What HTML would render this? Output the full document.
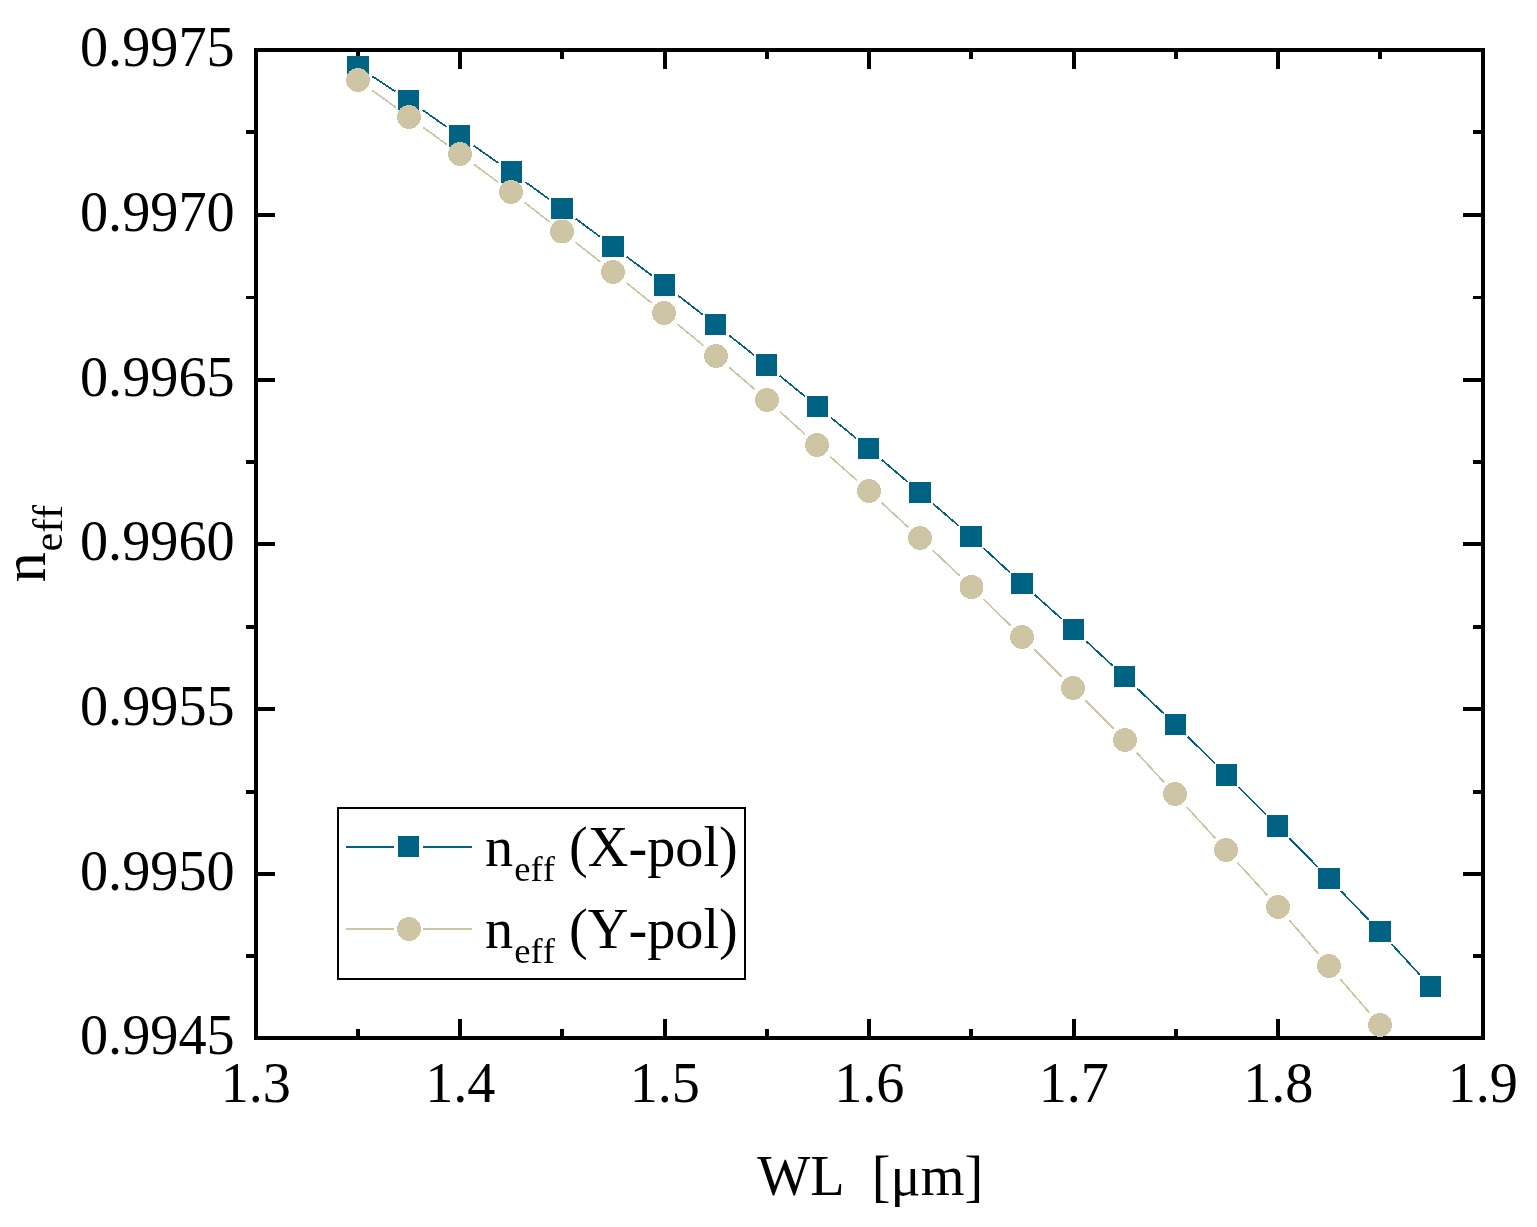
<!DOCTYPE html>
<html lang="en"><head><meta charset="utf-8"><title>n_eff vs WL</title>
<style>html,body{margin:0;padding:0;background:#fff;}body{width:1537px;height:1227px;overflow:hidden;}svg{display:block;}text{font-family:"Liberation Serif","DejaVu Serif",serif;fill:#000;font-kerning:none;font-variant-ligatures:none;font-feature-settings:"liga" 0,"kern" 0,"clig" 0;}</style>
</head><body>
<svg width="1537" height="1227" viewBox="0 0 1537 1227" role="img" aria-label="Effective index versus wavelength">
<rect x="0" y="0" width="1537" height="1227" fill="#fff"/>
<g shape-rendering="crispEdges">
<g fill="#000"><rect x="458" y="52" width="4" height="17"/><rect x="458" y="1019" width="4" height="17"/><rect x="663" y="52" width="4" height="17"/><rect x="663" y="1019" width="4" height="17"/><rect x="867" y="52" width="4" height="17"/><rect x="867" y="1019" width="4" height="17"/><rect x="1072" y="52" width="4" height="17"/><rect x="1072" y="1019" width="4" height="17"/><rect x="1276" y="52" width="4" height="17"/><rect x="1276" y="1019" width="4" height="17"/><rect x="356" y="52" width="4" height="7"/><rect x="356" y="1029" width="4" height="7"/><rect x="560" y="52" width="4" height="7"/><rect x="560" y="1029" width="4" height="7"/><rect x="765" y="52" width="4" height="7"/><rect x="765" y="1029" width="4" height="7"/><rect x="969" y="52" width="4" height="7"/><rect x="969" y="1029" width="4" height="7"/><rect x="1174" y="52" width="4" height="7"/><rect x="1174" y="1029" width="4" height="7"/><rect x="1378" y="52" width="4" height="7"/><rect x="1378" y="1029" width="4" height="7"/><rect x="258" y="213" width="17" height="4"/><rect x="1463" y="213" width="18" height="4"/><rect x="258" y="378" width="17" height="4"/><rect x="1463" y="378" width="18" height="4"/><rect x="258" y="542" width="17" height="4"/><rect x="1463" y="542" width="18" height="4"/><rect x="258" y="707" width="17" height="4"/><rect x="1463" y="707" width="18" height="4"/><rect x="258" y="872" width="17" height="4"/><rect x="1463" y="872" width="18" height="4"/><rect x="246" y="130" width="8" height="4"/><rect x="1473" y="130" width="8" height="4"/><rect x="246" y="296" width="8" height="3"/><rect x="1473" y="296" width="8" height="3"/><rect x="246" y="460" width="8" height="4"/><rect x="1473" y="460" width="8" height="4"/><rect x="246" y="625" width="8" height="4"/><rect x="1473" y="625" width="8" height="4"/><rect x="246" y="790" width="8" height="4"/><rect x="1473" y="790" width="8" height="4"/><rect x="246" y="954" width="8" height="4"/><rect x="1473" y="954" width="8" height="4"/></g>
<rect x="256.0" y="50.0" width="1227.0" height="988.0" fill="none" stroke="#000" stroke-width="4"/>
</g>
<g shape-rendering="crispEdges">
<path d="M372.5 76.5L395.1 91.2M422.6 110.0L446.4 126.8M473.7 145.8L498.3 162.9M525.5 182.1L549.0 199.1M575.9 218.8L600.2 236.9M626.9 256.9L651.7 275.4M678.2 295.6L702.9 314.7M729.0 335.3L754.0 355.0M779.9 375.9L805.1 396.4M830.9 417.5L856.1 438.3M881.7 459.7L907.8 482.1M933.1 503.8L958.9 526.0M983.7 548.2L1010.2 572.7M1034.9 595.0L1061.6 618.8M1086.2 641.2L1112.7 665.7M1137.1 688.4L1163.8 713.5M1187.8 736.7L1215.1 763.7M1238.7 787.2L1266.2 814.7M1289.6 838.4L1317.8 867.1M1341.0 891.0L1368.9 920.0M1391.7 944.2L1419.7 974.7" stroke="#006384" stroke-width="1.70" fill="none"/>
<path d="M372.0 90.2L396.0 107.6M423.0 127.2L447.0 144.6M473.9 164.3L498.2 182.4M524.7 202.6L549.4 221.7M575.5 242.3L600.5 262.0M626.5 282.8L651.5 303.0M677.3 324.0L703.7 345.8M729.1 367.3L754.9 389.5M779.9 411.6L805.1 434.3M830.0 456.5L857.0 480.4M881.7 502.7L908.2 527.2M932.5 549.9L959.9 576.0M983.8 599.2L1010.6 625.7M1034.2 649.2L1061.7 676.7M1085.2 700.2L1113.7 728.7M1136.8 752.7L1164.1 782.3M1186.6 806.8L1215.2 838.2M1237.7 862.8L1267.2 895.2M1289.3 920.1L1318.5 953.9M1340.3 979.1L1369.5 1012.9" stroke="#CEC5A5" stroke-width="1.70" fill="none"/>
<g fill="#006384" shape-rendering="crispEdges"><rect x="347" y="56" width="22" height="22"/><rect x="398" y="90" width="21" height="20"/><rect x="449" y="125" width="21" height="22"/><rect x="501" y="161" width="21" height="22"/><rect x="551" y="198" width="22" height="21"/><rect x="602" y="236" width="22" height="21"/><rect x="654" y="274" width="21" height="22"/><rect x="705" y="314" width="21" height="21"/><rect x="756" y="354" width="21" height="22"/><rect x="807" y="396" width="21" height="21"/><rect x="858" y="438" width="21" height="21"/><rect x="909" y="482" width="22" height="21"/><rect x="960" y="526" width="22" height="21"/><rect x="1011" y="573" width="22" height="21"/><rect x="1063" y="619" width="21" height="21"/><rect x="1114" y="666" width="21" height="21"/><rect x="1165" y="714" width="21" height="21"/><rect x="1216" y="764" width="21" height="22"/><rect x="1267" y="815" width="21" height="22"/><rect x="1318" y="868" width="22" height="21"/><rect x="1369" y="921" width="22" height="21"/><rect x="1420" y="976" width="21" height="21"/></g>
<g fill="#CEC5A5"><circle cx="358" cy="80" r="12"/><circle cx="409" cy="117" r="12"/><circle cx="460" cy="154" r="12"/><circle cx="511" cy="192" r="12"/><circle cx="562" cy="231.5" r="12"/><circle cx="613" cy="272" r="12"/><circle cx="664" cy="313" r="12"/><circle cx="716" cy="356" r="12"/><circle cx="767" cy="400" r="12"/><circle cx="817" cy="445" r="12"/><circle cx="869" cy="491" r="12"/><circle cx="920" cy="538" r="12"/><circle cx="971.5" cy="587" r="12"/><circle cx="1022" cy="637" r="12"/><circle cx="1073" cy="688" r="12"/><circle cx="1125" cy="740" r="12"/><circle cx="1175" cy="794" r="12"/><circle cx="1226" cy="850" r="12"/><circle cx="1278" cy="907" r="12"/><circle cx="1329" cy="966" r="12"/><circle cx="1380" cy="1025" r="12"/></g>
</g>
<g>
<rect x="338" y="808" width="407" height="171" fill="#fff" stroke="#000" stroke-width="2" shape-rendering="crispEdges"/>
<g shape-rendering="crispEdges">
<g fill="#006384"><rect x="346" y="846" width="48" height="2"/><rect x="423" y="846" width="49" height="2"/><rect x="398" y="836" width="21" height="21"/></g>
<g fill="#CEC5A5"><rect x="346" y="928" width="48" height="2"/><rect x="423" y="928" width="49" height="2"/><circle cx="409" cy="929" r="12"/></g>
</g>
<text y="865.9" font-size="56.25"><tspan x="485">n</tspan><tspan x="514.3" dy="14.9" font-size="36.56">eff</tspan><tspan x="555.04" dy="-14.9" xml:space="preserve"> (X-pol)</tspan></text>
<text y="947.9" font-size="56.25"><tspan x="485">n</tspan><tspan x="514.3" dy="14.9" font-size="36.56">eff</tspan><tspan x="555.04" dy="-14.9" xml:space="preserve"> (Y-pol)</tspan></text>
</g>
<g font-size="56.25">
<text transform="translate(80,66.2) scale(1,1.02)">0.9975</text>
<text transform="translate(80,230.9) scale(1,1.02)">0.9970</text>
<text transform="translate(80,395.5) scale(1,1.02)">0.9965</text>
<text transform="translate(80,560.2) scale(1,1.02)">0.9960</text>
<text transform="translate(80,724.9) scale(1,1.02)">0.9955</text>
<text transform="translate(80,889.5) scale(1,1.02)">0.9950</text>
<text transform="translate(80,1054.2) scale(1,1.02)">0.9945</text>
<text transform="translate(255.8,1101.8) scale(1,1.02)" text-anchor="middle">1.3</text>
<text transform="translate(460.3,1101.8) scale(1,1.02)" text-anchor="middle">1.4</text>
<text transform="translate(664.8,1101.8) scale(1,1.02)" text-anchor="middle">1.5</text>
<text transform="translate(869.3,1101.8) scale(1,1.02)" text-anchor="middle">1.6</text>
<text transform="translate(1073.8,1101.8) scale(1,1.02)" text-anchor="middle">1.7</text>
<text transform="translate(1278.3,1101.8) scale(1,1.02)" text-anchor="middle">1.8</text>
<text transform="translate(1482.8,1101.8) scale(1,1.02)" text-anchor="middle">1.9</text>
</g>
<text x="869.2" y="1194.6" font-size="56.25" text-anchor="middle" xml:space="preserve"><tspan dx="1">WL</tspan><tspan dx="-1">  [μm]</tspan></text>
<text transform="translate(45,582.4) rotate(-90)" font-size="60.7"><tspan x="0">n</tspan><tspan x="30.9" dy="16.5" font-size="42">eff</tspan></text>
</svg>
</body></html>
